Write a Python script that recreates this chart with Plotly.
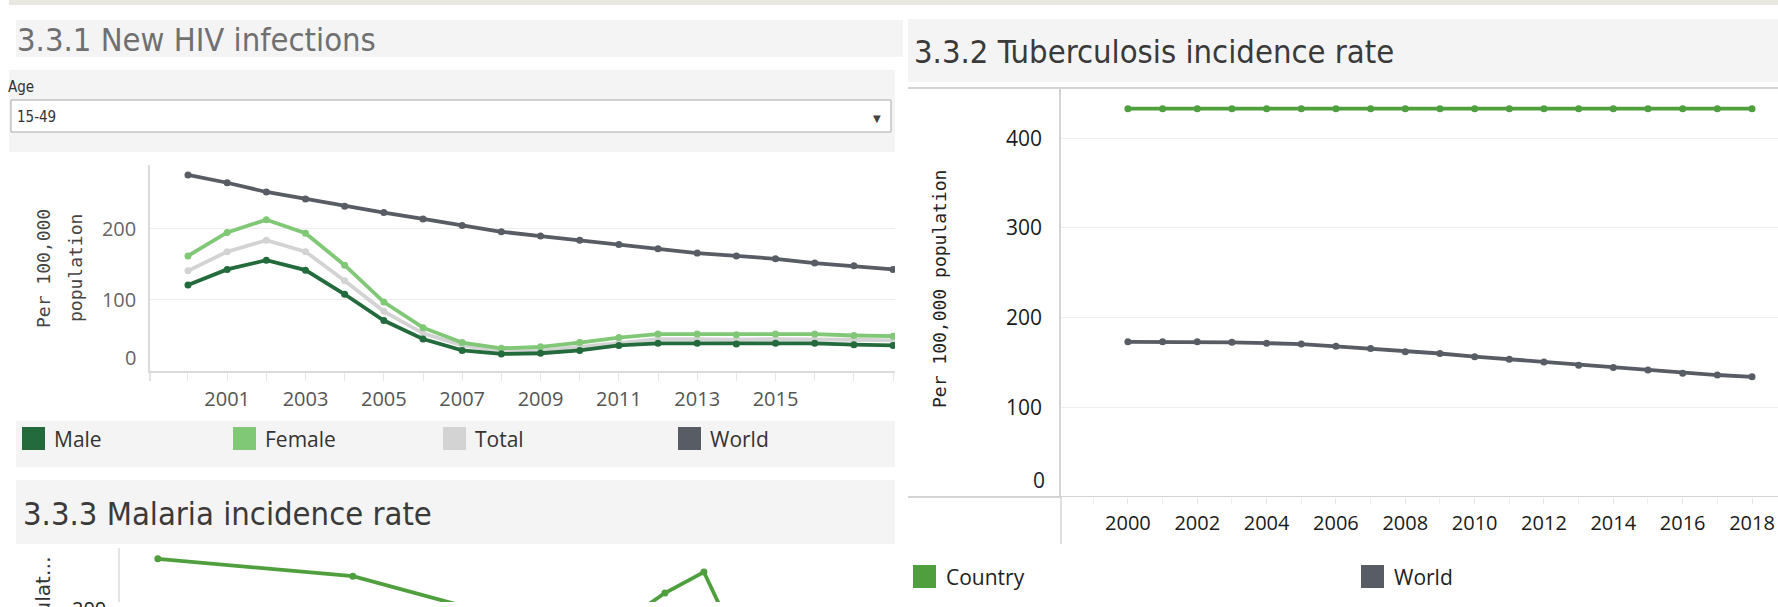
import plotly.graph_objects as go

W, H = 1778, 607
def X(px): return px / W
def Y(py): return 1 - py / H

# ---------------- data ----------------
years = [2000, 2001, 2002, 2003, 2004, 2005, 2006, 2007, 2008, 2009,
         2010, 2011, 2012, 2013, 2014, 2015, 2016, 2017, 2018]
hiv_world = [276, 265, 252, 242, 232, 223, 214, 205, 196, 190, 184, 178, 172, 166, 162, 158, 152, 148, 143]
hiv_female = [162, 195, 213, 194, 149, 97, 61, 40, 32, 34, 40, 47, 52, 52, 51, 52, 52, 50, 49]
hiv_total = [141, 168, 184, 168, 127, 84, 53, 36, 28, 29, 34, 40, 45, 45, 44, 45, 45, 44, 43]
hiv_male = [121, 143, 156, 142, 108, 71, 45, 29, 24, 25, 29, 36, 39, 39, 38, 39, 39, 37, 36]

tb_country = [433, 433, 433, 433, 433, 433, 433, 433, 433, 433,
              433, 433, 433, 433, 433, 433, 433, 433, 433]
tb_world = [173, 173, 173, 172.5, 171.5, 170.5, 168, 165.5, 162, 160,
            156.5, 153.5, 150.5, 147, 144.5, 141.5, 138, 136, 134]

mal_years = [2000, 2005, 2010, 2012, 2013, 2014, 2015]
mal_country = [272, 243, 155, 170, 215, 250, 112]
mal_ytick = 200

hiv_xticks = [2001, 2003, 2005, 2007, 2009, 2011, 2013, 2015]
tb_xticks = [2000, 2002, 2004, 2006, 2008, 2010, 2012, 2014, 2016, 2018]

hiv_legend = ["Male", "Female", "Total", "World"]
tb_legend = ["Country", "World"]
age_option = "15-49"

# ---------------- styles ----------------
C_MALE = "#236b3c"
C_FEMALE = "#80c776"
C_TOTAL = "#d3d3d3"
C_WORLD = "#585c64"
C_COUNTRY = "#4f9f3f"
BAND = "#f4f4f4"
TITLE_FONT = "DejaVu Sans Condensed, Liberation Sans Narrow, sans-serif"
TICK_FONT = "Open Sans, sans-serif"
MONO = "DejaVu Sans Mono, monospace"

fig = go.Figure()

def line(x, y, color, xa, ya, width=3.8, msize=7):
    fig.add_trace(go.Scatter(x=x, y=y, mode="lines+markers", xaxis=xa, yaxis=ya,
                             line=dict(color=color, width=width),
                             marker=dict(color=color, size=msize),
                             showlegend=False, hoverinfo="skip"))

# HIV
line(years, hiv_total, C_TOTAL, "x", "y")
line(years, hiv_female, C_FEMALE, "x", "y")
line(years, hiv_male, C_MALE, "x", "y")
line(years, hiv_world, C_WORLD, "x", "y")
# TB
line(years, tb_country, C_COUNTRY, "x2", "y2")
line(years, tb_world, C_WORLD, "x2", "y2")
# Malaria
line(mal_years, mal_country, C_COUNTRY, "x3", "y3")

shapes = []
def rect(x0, y0, x1, y1, fill, line_color=None, lw=0):
    shapes.append(dict(type="rect", xref="paper", yref="paper",
                       x0=X(x0), x1=X(x1), y0=Y(y1), y1=Y(y0),
                       fillcolor=fill, line=dict(color=line_color or fill, width=lw),
                       layer="below"))
def hline(x0, x1, y, color="#d6d6d6", w=1.5):
    shapes.append(dict(type="line", xref="paper", yref="paper",
                       x0=X(x0), x1=X(x1), y0=Y(y), y1=Y(y),
                       line=dict(color=color, width=w), layer="below"))
def vline(x, y0, y1, color="#d6d6d6", w=1.5):
    shapes.append(dict(type="line", xref="paper", yref="paper",
                       x0=X(x), x1=X(x), y0=Y(y0), y1=Y(y1),
                       line=dict(color=color, width=w), layer="below"))

# background bands
rect(9, 0, 1778, 5, "#e8e8e0")
rect(16, 20, 903, 57, BAND)
rect(9, 70, 895, 152, BAND)
rect(16, 421, 895, 467, BAND)
rect(16, 480, 895, 544, BAND)
rect(908, 19, 1778, 82, BAND)
# dropdown
shapes.append(dict(type="rect", xref="paper", yref="paper",
                   x0=X(11), x1=X(891), y0=Y(132), y1=Y(100),
                   fillcolor="white", line=dict(color="#a9a9a9", width=1), layer="below"))
# extra pane lines
hline(908, 1778, 88, "#d4d4d4", 2)
hline(908, 1061, 497, "#d4d4d4", 2)
vline(1061, 497, 544, "#d4d4d4", 1.5)
vline(150, 371, 381, "#dadada", 1.5)

ann = []
def text(x, y, s, size, color, family, xanchor="left", yanchor="middle", angle=0):
    ann.append(dict(x=X(x), y=Y(y), xref="paper", yref="paper", text=s,
                    showarrow=False, xanchor=xanchor, yanchor=yanchor, textangle=angle,
                    font=dict(size=size, color=color, family=family)))

text(15, 40, "3.3.1 New HIV infections", 32.5, "#707070", TITLE_FONT)
text(912, 52, "3.3.2 Tuberculosis incidence rate", 32.5, "#3a3a3a", TITLE_FONT)
text(21, 514, "3.3.3 Malaria incidence rate", 32.5, "#3a3a3a", TITLE_FONT)
text(6, 87, "Age", 15, "#333333", TITLE_FONT)
text(15, 117, age_option, 15, "#333333", TITLE_FONT)
text(877, 118, "▼", 10, "#444444", "DejaVu Sans", xanchor="center")

# axis titles
text(43, 269, "Per 100,000", 18, "#444444", MONO, xanchor="center", angle=-90)
text(75, 268, "population", 18, "#444444", MONO, xanchor="center", angle=-90)
text(939, 289, "Per 100,000 population", 18, "#222222", MONO, xanchor="center", angle=-90)
text(43, 554, "Per 1,000 populat…", 20, "#333333", "DejaVu Sans", xanchor="center", yanchor="top", angle=-90)

# legends
hiv_cols = [C_MALE, C_FEMALE, C_TOTAL, C_WORLD]
hiv_sw = [22, 233, 443, 678]
for name, col, sx in zip(hiv_legend, hiv_cols, hiv_sw):
    rect(sx, 427, sx + 23, 450, col)
    shapes[-1]["layer"] = "above"
    text(sx + 30, 439, name, 21, "#333333", TICK_FONT)
tb_cols = [C_COUNTRY, C_WORLD]
tb_sw = [913, 1361]
for name, col, sx in zip(tb_legend, tb_cols, tb_sw):
    rect(sx, 565, sx + 23, 588, col)
    shapes[-1]["layer"] = "above"
    text(sx + 31, 577, name, 21, "#222222", TICK_FONT)

# edge tick labels that Tableau nudges (zero labels up, malaria label cut at bottom)
ann.append(dict(x=X(138), y=0, xref="paper", yref="y", yshift=14, text="0", showarrow=False,
                xanchor="right", yanchor="middle", font=dict(size=20, color="#666666", family=TICK_FONT)))
ann.append(dict(x=X(1047), y=0, xref="paper", yref="y2", yshift=17, text="0", showarrow=False,
                xanchor="right", yanchor="middle", font=dict(size=21, color="#222222", family=TICK_FONT)))
ann.append(dict(x=X(108), y=mal_ytick, xref="paper", yref="y3", yshift=-6, text=str(mal_ytick),
                showarrow=False, xanchor="right", yanchor="middle",
                font=dict(size=20, color="#222222", family=TICK_FONT)))

AX = "#dadada"
GRID = "#eeeeee"
layout = dict(
    width=W, height=H, margin=dict(l=0, r=0, t=0, b=0),
    paper_bgcolor="white", plot_bgcolor="rgba(0,0,0,0)",
    shapes=shapes, annotations=ann, showlegend=False,
    xaxis=dict(domain=[X(150), X(895)], range=[1999.03, 2018.05], anchor="y",
               tickvals=hiv_xticks, showgrid=False, zeroline=False,
               showline=True, linecolor=AX, linewidth=1.5,
               ticks="outside", ticklen=8, tickcolor="#e6e6e6",
               minor=dict(ticks="outside", ticklen=8, tickcolor="#e6e6e6", dtick=1, tick0=2000, showgrid=False),
               ticklabelstandoff=1,
               tickfont=dict(size=20, color="#555555", family=TICK_FONT)),
    yaxis=dict(domain=[Y(371), Y(165)], range=[0, 290], anchor="x",
               tickvals=[100, 200], showgrid=True, gridcolor=GRID, gridwidth=1,
               zeroline=False, showline=True, linecolor=AX, linewidth=1.5,
               ticks="", ticklabelstandoff=8,
               tickfont=dict(size=20, color="#666666", family=TICK_FONT)),
    xaxis2=dict(domain=[X(1061), 1], range=[1998.07, 2018.75], anchor="y2",
                tickvals=tb_xticks, showgrid=False, zeroline=False,
                showline=False,
                ticks="outside", ticklen=6, tickcolor="#e6e6e6",
                minor=dict(ticks="outside", ticklen=6, tickcolor="#eeeeee", dtick=1, tick0=2000, showgrid=False),
                ticklabelstandoff=2,
                tickfont=dict(size=20, color="#1a1a1a", family=TICK_FONT)),
    yaxis2=dict(domain=[Y(497), Y(88)], range=[0, 456], anchor="x2",
                tickvals=[100, 200, 300, 400], showgrid=True, gridcolor=GRID, gridwidth=1,
                zeroline=False, showline=True, linecolor="#d4d4d4", linewidth=1.5,
                ticks="", ticklabelstandoff=13,
                tickfont=dict(size=21, color="#1a1a1a", family=TICK_FONT)),
    xaxis3=dict(domain=[X(120), X(895)], range=[1999.03, 2018.9], anchor="y3",
                showticklabels=False, showgrid=False, zeroline=False, showline=False, ticks=""),
    yaxis3=dict(domain=[Y(602), Y(548)], range=[200, 290], anchor="x3",
                showticklabels=False, showgrid=False, zeroline=False,
                showline=True, linecolor="#e4e4e4", linewidth=1.5, ticks=""),
)
fig.update_layout(**layout)
# TB x-axis line at zero across the pane
fig.add_shape(type="line", xref="x2 domain", yref="y2", x0=0, x1=1, y0=0, y1=0,
              line=dict(color="#d4d4d4", width=2), layer="below")

fig.write_html("out.html", config={"displayModeBar": False},
               post_script="document.body.style.margin='0';document.body.style.overflow='hidden';")
